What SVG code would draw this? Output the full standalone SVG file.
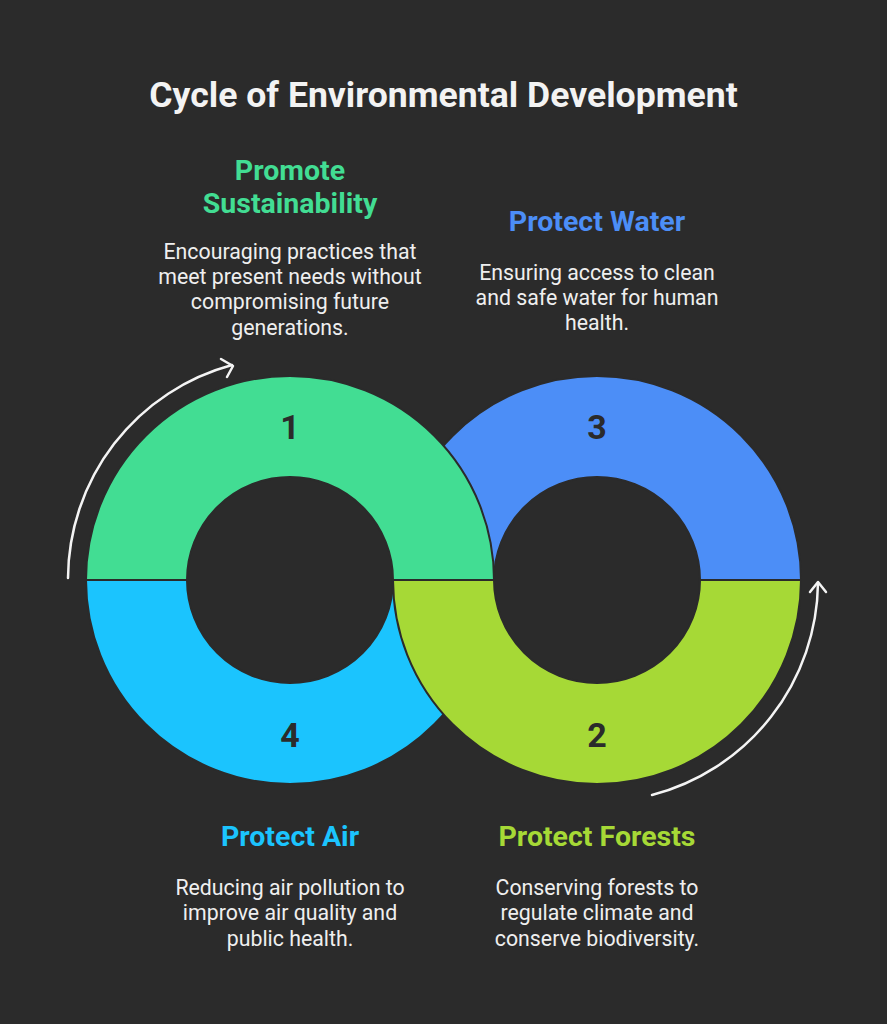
<svg xmlns="http://www.w3.org/2000/svg" width="887" height="1024" viewBox="0 0 887 1024">
<style>
.seg{stroke:#2b2b2b;stroke-width:2}
.num{font-family:Roboto,"Liberation Sans",sans-serif;font-weight:700;font-size:34px;fill:#2b2b2b;text-anchor:middle}
.ttl{font-family:Roboto,"Liberation Sans",sans-serif;font-weight:700;font-size:28.5px;text-anchor:middle}
.dsc{font-family:Roboto,"Liberation Sans",sans-serif;font-size:21.3px;fill:#efefef;text-anchor:middle}
.arr{fill:none;stroke:#f4f4f4;stroke-width:2.5;stroke-linecap:round;stroke-linejoin:round}
</style>
<rect width="887" height="1024" fill="#2b2b2b"/>
<text x="443.5" y="107" font-family="Roboto,'Liberation Sans',sans-serif" font-weight="700" font-size="35.6" fill="#f3f3f3" text-anchor="middle">Cycle of Environmental Development</text>

<g id="node-water">
<path class="seg" fill="#4c8ef7" d="M393 580 A204 204 0 0 1 801 580 L700 580 A103 103 0 0 0 494 580 Z"/>
<text class="num" x="597" y="439">3</text>
</g>
<g id="node-air">
<path class="seg" fill="#1bc4fe" d="M86 580 A204 204 0 0 0 494 580 L393 580 A103 103 0 0 1 187 580 Z"/>
<text class="num" x="290" y="747">4</text>
</g>
<g id="node-sustainability">
<path class="seg" fill="#42dd93" d="M86 580 A204 204 0 0 1 494 580 L393 580 A103 103 0 0 0 187 580 Z"/>
<text class="num" x="290" y="439">1</text>
</g>
<g id="node-forests">
<path class="seg" fill="#a6d936" d="M393 580 A204 204 0 0 0 801 580 L700 580 A103 103 0 0 1 494 580 Z"/>
<text class="num" x="597" y="747">2</text>
</g>

<g id="connectors">
<path class="arr" d="M68 578 A222 222 0 0 1 232 365"/>
<path class="arr" d="M221 359 L233 366 L227 377"/>
<path class="arr" d="M652 795 A222 222 0 0 0 818 583"/>
<path class="arr" d="M810 592 L818 582 L826 592"/>
</g>

<g id="label-sustainability">
<text class="ttl" fill="#42dd93" x="290" y="180">Promote</text>
<text class="ttl" fill="#42dd93" x="290" y="213">Sustainability</text>
<text class="dsc" x="290" y="259">Encouraging practices that</text>
<text class="dsc" x="290" y="284">meet present needs without</text>
<text class="dsc" x="290" y="309">compromising future</text>
<text class="dsc" x="290" y="335">generations.</text>
</g>
<g id="label-water">
<text class="ttl" fill="#4c8ef7" x="597" y="231">Protect Water</text>
<text class="dsc" x="597" y="280">Ensuring access to clean</text>
<text class="dsc" x="597" y="305">and safe water for human</text>
<text class="dsc" x="597" y="330">health.</text>
</g>
<g id="label-air">
<text class="ttl" fill="#1bc4fe" x="290" y="846">Protect Air</text>
<text class="dsc" x="290" y="895">Reducing air pollution to</text>
<text class="dsc" x="290" y="920">improve air quality and</text>
<text class="dsc" x="290" y="946">public health.</text>
</g>
<g id="label-forests">
<text class="ttl" fill="#a6d936" x="597" y="846">Protect Forests</text>
<text class="dsc" x="597" y="895">Conserving forests to</text>
<text class="dsc" x="597" y="920">regulate climate and</text>
<text class="dsc" x="597" y="946">conserve biodiversity.</text>
</g>
</svg>
